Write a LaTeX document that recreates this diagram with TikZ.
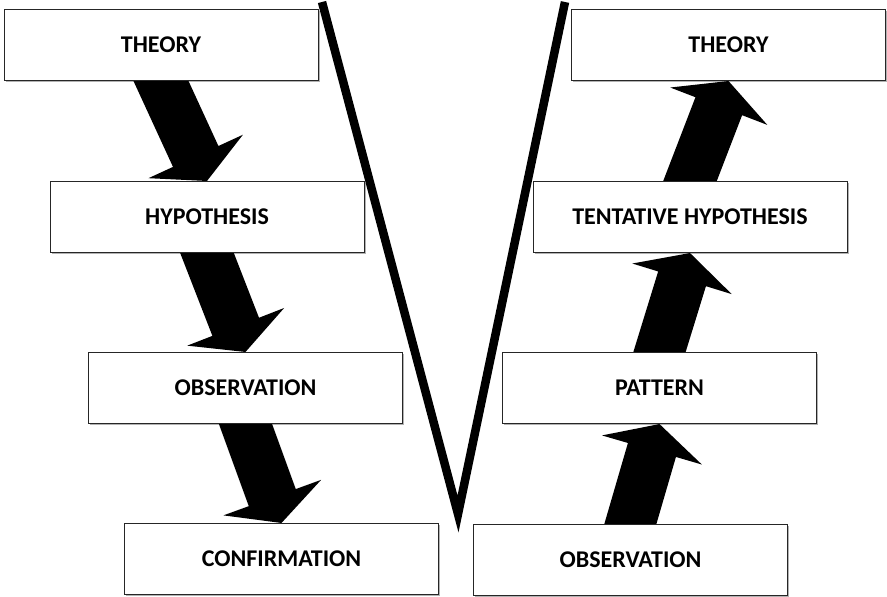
\documentclass[tikz,border=0pt]{standalone}
\usepackage{fontspec}
\setmainfont{Carlito}
\usetikzlibrary{calc,shadows}
\pgfdeclarelayer{bg}
\pgfsetlayers{bg,main}

% thick block arrow from #1 to #2, tail tucked under the first box
\newcommand\stagearrow[2]{%
  \fill[blockarrow] let \p1=(#1), \p2=(#2),
      \n1={atan2(\y2-\y1,\x2-\x1)}, \n2={veclen(\x2-\x1,\y2-\y1)} in
    [shift={(\p1)}, rotate=\n1]
    (-12,-25) -- ({\n2-27},-25) -- ({\n2-27},-52) -- (\n2,0)
    -- ({\n2-27},52) -- ({\n2-27},25) -- (-12,25) -- cycle;}

\begin{document}
\begin{tikzpicture}[x=1pt,y=-1pt,
  stage/.style={draw=black!85, line width=1pt, fill=white,
    minimum width=314pt, minimum height=71pt, inner sep=0pt,
    font=\fontsize{24}{28}\selectfont\bfseries,
    drop shadow={shadow xshift=1.5pt, shadow yshift=-1.5pt, opacity=0.3, fill=black}},
  blockarrow/.style={fill=black},
  vline/.style={line width=8.5pt, line join=miter, line cap=butt}]
\useasboundingbox (0,0) rectangle (887,597);

% deductive side
\node[stage] (dTheory) at (161,45)    {THEORY};
\node[stage] (dHyp)    at (207,217)   {HYPOTHESIS};
\node[stage] (dObs)    at (245.5,388) {OBSERVATION};
\node[stage] (dConf)   at (281.5,559) {CONFIRMATION};

% inductive side
\node[stage] (iTheory) at (728.5,45)   {THEORY};
\node[stage] (iHyp)    at (690,217)    {TENTATIVE HYPOTHESIS};
\node[stage] (iPat)    at (659.5,388)  {PATTERN};
\node[stage] (iObs)    at (630.5,559.5){OBSERVATION};

\begin{pgfonlayer}{bg}
  \stagearrow{dTheory.south}{dHyp.north}
  \stagearrow{dHyp.south}{dObs.north}
  \stagearrow{dObs.south}{dConf.north}
  \stagearrow{iObs.north}{iPat.south}
  \stagearrow{iPat.north}{iHyp.south}
  \stagearrow{iHyp.north}{iTheory.south}
\end{pgfonlayer}

% the V
\coordinate (vLeft)  at (322,2);
\coordinate (vBase)  at (458,514);
\coordinate (vRight) at (565,2);
\draw[vline] (vLeft) -- (vBase) -- (vRight);
\end{tikzpicture}
\end{document}
